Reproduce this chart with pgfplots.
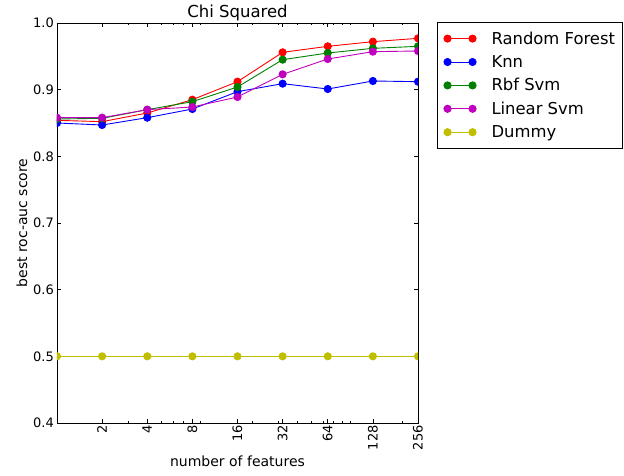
\documentclass[border=0pt]{standalone}
\usepackage{pgfplots}
\pgfplotsset{compat=1.18}
\usepackage{fontspec}
\setmainfont{DejaVu Sans}

\definecolor{mplred}{rgb}{1,0,0}
\definecolor{mplblue}{rgb}{0,0,1}
\definecolor{mplgreen}{rgb}{0,0.5,0}
\definecolor{mplmagenta}{rgb}{0.75,0,0.75}
\definecolor{mplyellow}{rgb}{0.75,0.75,0}

\pgfplotstableread{
n    rf     knn    rbf    lin    dummy
1    0.854  0.850  0.856  0.858  0.5
2    0.852  0.847  0.857  0.858  0.5
4    0.865  0.858  0.870  0.870  0.5
8    0.885  0.871  0.882  0.874  0.5
16   0.912  0.897  0.904  0.889  0.5
32   0.956  0.909  0.945  0.923  0.5
64   0.965  0.901  0.955  0.946  0.5
128  0.972  0.913  0.962  0.957  0.5
256  0.977  0.912  0.965  0.958  0.5
}\scores

\begin{document}
\begin{tikzpicture}
\begin{axis}[
  scale only axis,
  width=361pt, height=400pt,
  xmode=log, log basis x=2,
  xmin=1, xmax=256, ymin=0.4, ymax=1.0,
  xtick={2,4,8,16,32,64,128,256},
  xticklabels={2,4,8,16,32,64,128,256},
  % base-ten style minor ticks, drawn as short unlabelled extra ticks
  extra x ticks={3,5,6,7,9,20,30,40,50,60,70,80,90,200},
  extra x tick labels={},
  extra x tick style={major tick length=2pt},
  ytick={0.4,0.5,0.6,0.7,0.8,0.9,1.0},
  yticklabel style={/pgf/number format/fixed, /pgf/number format/fixed zerofill,
    /pgf/number format/precision=1, inner sep=3pt},
  /pgf/number format/assume math mode=true,
  tick align=inside,
  major tick length=4pt,
  every tick/.style={black, line width=0.6pt},
  axis line style={black, line width=0.8pt},
  tick label style={font=\fontsize{13}{15}\selectfont},
  x tick label style={rotate=90, anchor=east, inner sep=2pt},
  title={Chi Squared},
  title style={font=\fontsize{16.5}{19}\selectfont, at={(axis description cs:0.5,1)}, anchor=south, yshift=-7pt},
  xlabel={number of features},
  ylabel={best roc-auc score},
  label style={font=\fontsize{14}{16}\selectfont},
  xlabel style={at={(axis description cs:0.5,-0.095)}, anchor=center},
  ylabel style={at={(axis description cs:-0.097,0.5)}, anchor=center},
  clip marker paths=true,
  every axis plot/.append style={line width=0.9pt, mark=*, mark size=3.6pt,
    mark options={draw=black!80, line width=0.4pt}},
  legend image code/.code={
    % invisible frame that fixes the height of each legend row
    \path[draw=none, fill=none] (-5pt,-11.7pt) rectangle (30pt,11.7pt);
    \draw[#1, mark=none] (0pt,0pt) -- (25pt,0pt);
    \draw[#1, only marks] plot coordinates {(0pt,0pt) (25pt,0pt)};
  },
  legend style={at={(axis description cs:1.053,1.0025)}, anchor=north west,
    draw=black, line width=0.8pt, fill=white,
    font=\fontsize{16.4}{19}\selectfont,
    inner xsep=5pt, inner ysep=4.5pt,
    row sep=0pt,
    /tikz/every odd column/.append style={column sep=12pt}},
  legend cell align=left,
]
\addplot[mplred, mark options={fill=mplred}] table[x=n, y=rf] {\scores};
\addlegendentry{Random Forest}
\addplot[mplblue, mark options={fill=mplblue}] table[x=n, y=knn] {\scores};
\addlegendentry{Knn}
\addplot[mplgreen, mark options={fill=mplgreen}] table[x=n, y=rbf] {\scores};
\addlegendentry{Rbf Svm}
\addplot[mplmagenta, mark options={fill=mplmagenta}] table[x=n, y=lin] {\scores};
\addlegendentry{Linear Svm}
\addplot[mplyellow, mark options={fill=mplyellow}] table[x=n, y=dummy] {\scores};
\addlegendentry{Dummy}
\end{axis}
\pgfresetboundingbox
\path[use as bounding box] (-57pt,-53pt) rectangle (567pt,423pt);
\end{tikzpicture}
\end{document}
